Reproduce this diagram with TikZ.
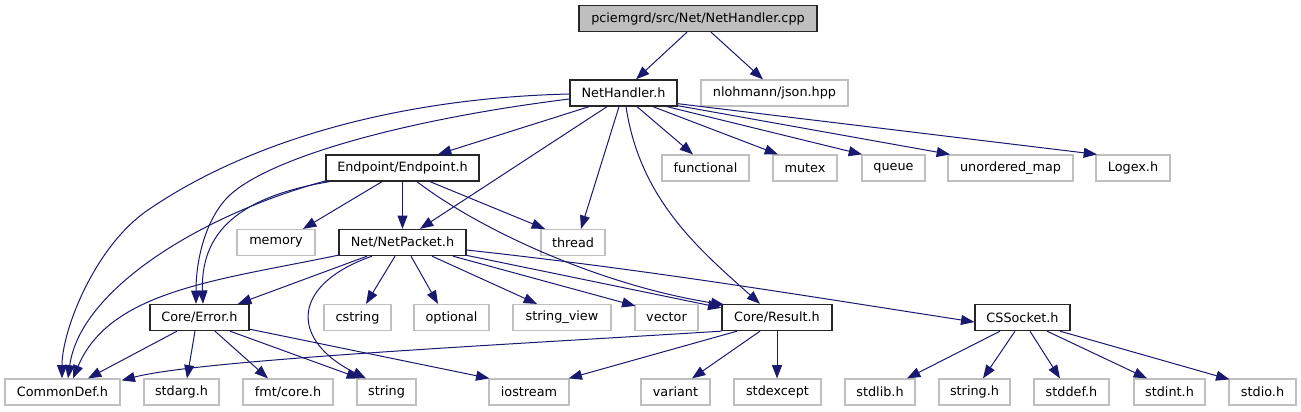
\documentclass[tikz,border=0pt]{standalone}
\usepackage{fontspec}
\setmainfont{DejaVu Sans}
\usetikzlibrary{arrows.meta}
\definecolor{edgec}{HTML}{191970}
\definecolor{gborder}{HTML}{BFBFBF}
\definecolor{rootfill}{HTML}{BFBFBF}
\tikzset{
  nd/.style={rectangle, inner sep=0pt, minimum height=19.5pt, font=\fontsize{9.6}{11}\selectfont, minimum width=#1*0.75pt},
  gnode/.style={nd=#1, draw=gborder, line width=0.9pt, fill=white},
  bnode/.style={nd=#1, draw=black!85, line width=1pt, fill=white},
  rnode/.style={nd=#1, draw=black!85, line width=1pt, fill=rootfill},
  ed/.style={draw=edgec, line width=0.75pt, -{Triangle[length=10pt,width=7.5pt]}}
}
\begin{document}
\begin{tikzpicture}[x=0.75pt,y=-0.75pt]
\useasboundingbox (0,0) rectangle (1301,411);
% nodes
\node[rnode=238] (root) at (698,18.5) {pciemgrd/src/Net/NetHandler.cpp};
\node[bnode=107] (nh) at (623.5,93) {NetHandler.h};
\node[gnode=147] (json) at (774.5,93) {nlohmann/json.hpp};
\node[bnode=153] (ep) at (402.5,168) {Endpoint/Endpoint.h};
\node[gnode=87] (func) at (705.5,168) {functional};
\node[gnode=64] (mutex) at (805,168) {mutex};
\node[gnode=63] (queue) at (893.5,168) {queue};
\node[gnode=125] (umap) at (1010.5,168) {unordered\_map};
\node[gnode=74] (logex) at (1133,168) {Logex.h};
\node[gnode=78] (memory) at (276,242.5) {memory};
\node[bnode=127] (np) at (402.5,242.5) {Net/NetPacket.h};
\node[gnode=64] (thread) at (573,242.5) {thread};
\node[bnode=99] (err) at (199.5,317.5) {Core/Error.h};
\node[gnode=67] (cstring) at (357.5,317.5) {cstring};
\node[gnode=75] (optional) at (451.5,317.5) {optional};
\node[gnode=98] (sview) at (562,317.5) {string\_view};
\node[gnode=63] (vector) at (666.5,317.5) {vector};
\node[bnode=110] (res) at (777,317.5) {Core/Result.h};
\node[bnode=95] (css) at (1022.5,317.5) {CSSocket.h};
\node[gnode=115] (cdef) at (62.5,392) {CommonDef.h};
\node[gnode=75] (stdarg) at (181.5,392) {stdarg.h};
\node[gnode=90] (fmt) at (288,392) {fmt/core.h};
\node[gnode=59] (string) at (386.5,392) {string};
\node[gnode=80] (iostream) at (529,392) {iostream};
\node[gnode=69] (variant) at (675.5,392) {variant};
\node[gnode=87] (stdexcept) at (777.5,392) {stdexcept};
\node[gnode=70] (stdlib) at (880,392) {stdlib.h};
\node[gnode=71] (stringh) at (974.5,392) {string.h};
\node[gnode=75] (stddef) at (1071.5,392) {stddef.h};
\node[gnode=71] (stdint) at (1169.5,392) {stdint.h};
\node[gnode=67] (stdio) at (1262.5,392) {stdio.h};
% edges from root
\draw[ed] ([shift={(-11,0)}]root.south) -- ([shift={(12.5,0)}]nh.north);
\draw[ed] ([shift={(13,0)}]root.south) -- ([shift={(-11.5,0)}]json.north);
% edges from NetHandler.h
\draw[ed] ([shift={(-34.5,0)}]nh.south) -- ([shift={(35.5,0)}]ep.north);
\draw[ed] ([shift={(13.5,0)}]nh.south) -- ([shift={(-12.5,0)}]func.north);
\draw[ed] ([shift={(29.5,0)}]nh.south) -- ([shift={(-27,0)}]mutex.north);
\draw[ed] ([shift={(43.5,0)}]nh.south) -- ([shift={(-31.5,0)}]queue.north);
\draw[ed] ([shift={(0,-1)}]nh.south east) -- ([shift={(-60.5,0)}]umap.north);
\draw[ed] ([shift={(0,-3)}]nh.south east) -- ([shift={(-36,0)}]logex.north);
\draw[ed] ([shift={(0,1)}]nh.west) .. controls (400,98) and (250,140) .. (148,210)
  .. controls (95,246) and (62,330) .. ([shift={(-0.5,0)}]cdef.north);
\draw[ed] ([shift={(0,6)}]nh.west) .. controls (400,120) and (260,160) .. (225,200)
  .. controls (205,223) and (196,260) .. ([shift={(-3.5,0)}]err.north);
\draw[ed] ([shift={(-16.5,0)}]nh.south) -- ([shift={(17.5,0)}]np.north);
\draw[ed] ([shift={(-4.5,0)}]nh.south) -- ([shift={(8,0)}]thread.north);
\draw[ed] ([shift={(2.5,0)}]nh.south) .. controls (640,200) and (700,250) .. ([shift={(-17,0)}]res.north);
% edges from Endpoint.h
\draw[ed] ([shift={(-20.5,0)}]ep.south) -- ([shift={(27,0)}]memory.north);
\draw[ed] (ep.south) -- (np.north);
\draw[ed] ([shift={(27.5,0)}]ep.south) -- ([shift={(-28,0)}]thread.north);
\draw[ed] ([shift={(14.5,0)}]ep.south) .. controls (480,230) and (600,285) .. ([shift={(3,1)}]res.north west);
\draw[ed] ([shift={(4,0)}]ep.south west) .. controls (250,195) and (200,225) .. ([shift={(3.5,0)}]err.north);
\draw[ed] ([shift={(1,-1)}]ep.south west) .. controls (200,215) and (80,290) .. ([shift={(5.5,0)}]cdef.north);
% edges from Net/NetPacket.h
\draw[ed] ([shift={(-35.5,0)}]np.south) -- ([shift={(38.5,0)}]err.north);
\draw[ed] ([shift={(0,-1)}]np.south west) .. controls (220,280) and (110,290) .. ([shift={(10.5,0)}]cdef.north);
\draw[ed] ([shift={(-30.5,0)}]np.south) .. controls (290,285) and (290,340) .. ([shift={(-20.5,0)}]string.north);
\draw[ed] ([shift={(-7.5,0)}]np.south) -- ([shift={(8.5,0)}]cstring.north);
\draw[ed] ([shift={(8.5,0)}]np.south) -- ([shift={(-13.5,0)}]optional.north);
\draw[ed] ([shift={(29.5,0)}]np.south) -- ([shift={(-25,0)}]sview.north);
\draw[ed] ([shift={(50.5,0)}]np.south) -- ([shift={(1,2)}]vector.north west);
\draw[ed] ([shift={(-1,-1)}]np.south east) -- ([shift={(0,4)}]res.north west);
\draw[ed] ([shift={(0,7.5)}]np.east) .. controls (650,270) and (800,295) .. ([shift={(0,4.5)}]css.west);
% edges from Core/Error.h
\draw[ed] ([shift={(-22.5,0)}]err.south) -- ([shift={(25.5,0)}]cdef.north);
\draw[ed] ([shift={(-4.5,0)}]err.south) -- ([shift={(5.5,0)}]stdarg.north);
\draw[ed] ([shift={(15.5,0)}]err.south) -- ([shift={(-20,0)}]fmt.north);
\draw[ed] ([shift={(30.5,0)}]err.south) -- ([shift={(-26.5,0)}]string.north);
\draw[ed] ([shift={(0,-2)}]err.south east) -- ([shift={(1,0)}]iostream.north west);
% edges from Core/Result.h
\draw[ed] (res.south west) .. controls (500,345) and (200,360) .. ([shift={(1,2)}]cdef.north east);
\draw[ed] ([shift={(-40,0)}]res.south) -- ([shift={(-1,0)}]iostream.north east);
\draw[ed] ([shift={(-17,0)}]res.south) -- ([shift={(16.5,0)}]variant.north);
\draw[ed] (res.south) -- ([shift={(-0.5,0)}]stdexcept.north);
% edges from CSSocket.h
\draw[ed] ([shift={(-22.5,0)}]css.south) -- ([shift={(27,0)}]stdlib.north);
\draw[ed] ([shift={(-7.5,0)}]css.south) -- ([shift={(8.5,0)}]stringh.north);
\draw[ed] ([shift={(7.5,0)}]css.south) -- ([shift={(-11.5,0)}]stddef.north);
\draw[ed] ([shift={(24.5,0)}]css.south) -- ([shift={(-22.5,0)}]stdint.north);
\draw[ed] ([shift={(37.5,0)}]css.south) -- ([shift={(1,1)}]stdio.north west);
\end{tikzpicture}
\end{document}
